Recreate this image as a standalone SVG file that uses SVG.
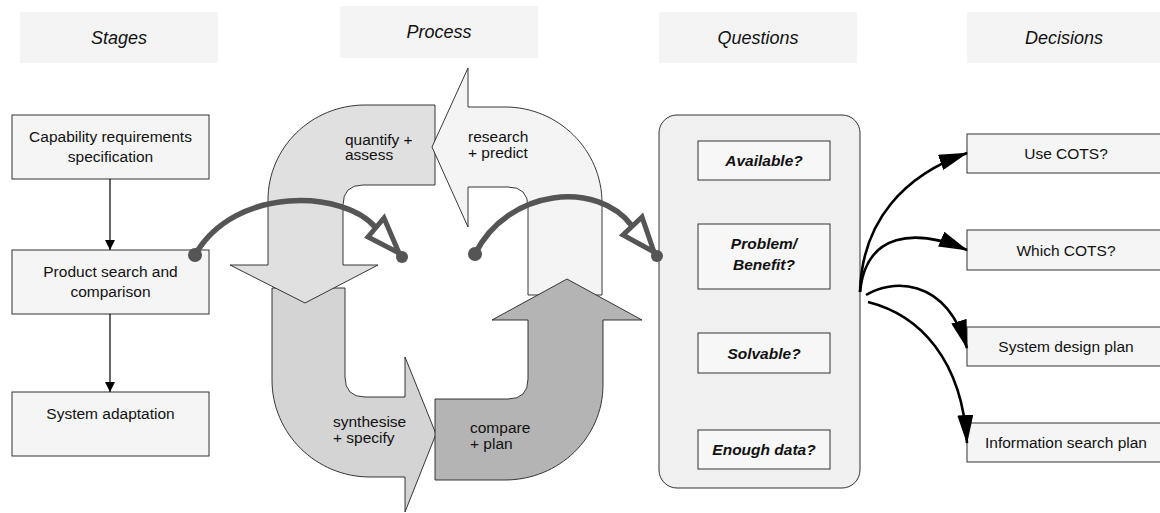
<svg xmlns="http://www.w3.org/2000/svg" width="1160" height="513" viewBox="0 0 1160 513">
  <style>
    text { font-family: "Liberation Sans", Arial, sans-serif; fill: #111; }
    .hdr { font-size: 18px; font-style: italic; text-anchor: middle; }
    .lbl { font-size: 15.5px; }
    .mid { text-anchor: middle; }
    .q { font-size: 15.5px; font-weight: bold; font-style: italic; text-anchor: middle; }
    .hbox { fill: #f4f4f4; stroke: none; }
    .box { fill: #f5f5f5; stroke: #333; stroke-width: 1; }
    .qbox { fill: #f7f7f7; stroke: #333; stroke-width: 1; }
    .blob { stroke: #222; stroke-width: 0.9; stroke-linejoin: miter; }
    .flow { fill: none; stroke: #000; stroke-width: 1.2; }
    .fan { fill: none; stroke: #000; stroke-width: 2.6; }
    .arc { fill: none; stroke: #555; stroke-width: 5.5; }
    .hollow { fill: none; stroke: #555; stroke-width: 5; stroke-linejoin: miter; }
    .dot { fill: #555; }
  </style>
  <defs>
    <marker id="tri" markerUnits="userSpaceOnUse" markerWidth="10" markerHeight="10" refX="10" refY="5" orient="auto">
      <path d="M0,0 L10,5 L0,10 Z" fill="#000"/>
    </marker>
    <marker id="head" markerUnits="userSpaceOnUse" markerWidth="29" markerHeight="16" refX="28" refY="8" orient="auto">
      <path d="M0,0 L29,8 L0,16 Z" fill="#000"/>
    </marker>
  </defs>

  <rect width="1160" height="513" fill="#fff"/>

  <!-- column headers -->
  <g id="hdr-stages"><rect class="hbox" x="20" y="12" width="198" height="51"/><text class="hdr" x="119" y="44">Stages</text></g>
  <g id="hdr-process"><rect class="hbox" x="340" y="6" width="198" height="52"/><text class="hdr" x="439" y="38">Process</text></g>
  <g id="hdr-questions"><rect class="hbox" x="659" y="12" width="198" height="51"/><text class="hdr" x="758" y="44">Questions</text></g>
  <g id="hdr-decisions"><rect class="hbox" x="967" y="12" width="198" height="51"/><text class="hdr" x="1064" y="44">Decisions</text></g>

  <!-- stages -->
  <g id="stage-capability">
    <rect class="box" x="12" y="115" width="197" height="64"/>
    <text class="lbl mid" x="110.5" y="142">Capability requirements</text>
    <text class="lbl mid" x="110.5" y="162">specification</text>
  </g>
  <g id="stage-product">
    <rect class="box" x="12" y="250" width="197" height="64"/>
    <text class="lbl mid" x="110.5" y="277">Product search and</text>
    <text class="lbl mid" x="110.5" y="297">comparison</text>
  </g>
  <g id="stage-adaptation">
    <rect class="box" x="12" y="392" width="197" height="64"/>
    <text class="lbl mid" x="110.5" y="419">System adaptation</text>
  </g>

  <!-- process cycle: four bent arrows -->
  <g id="cycle-synthesise">
    <path class="blob" fill="#d4d4d4" d="M272,288 L345,288 L345,377 Q345,397 365,397 L405,397 L405,357 L436,434 L405,512 L405,477 L370,477 C316,477 272,433.5 272,380 Z"/>
    <text class="lbl" x="333" y="427">synthesise</text>
    <text class="lbl" x="333" y="443">+ specify</text>
  </g>
  <g id="cycle-quantify">
    <path class="blob" fill="#e0e0e0" d="M435,105 L365,105 C311.5,105 268,147.5 268,200 L268,265 L230,265 L305,303 L378,265 L343,265 L343,205 Q343,185 363,185 L435,185 Z"/>
    <text class="lbl" x="345" y="145">quantify +</text>
    <text class="lbl" x="345" y="160">assess</text>
  </g>
  <g id="cycle-research">
    <path class="blob" fill="#f4f4f4" d="M432,147 L468,68 L468,107 L505,107 C558.5,107 602,150 602,203 L602,295 L528,295 L528,207 Q528,187 508,187 L468,187 L468,227 Z"/>
    <text class="lbl" x="468" y="142">research</text>
    <text class="lbl" x="468" y="158">+ predict</text>
  </g>
  <g id="cycle-compare">
    <path class="blob" fill="#b4b4b4" d="M435,399 L508,399 Q528,399 528,379 L528,320 L492,320 L567,279 L642,320 L603,320 L603,385 C603,437.5 559,480 505,480 L435,480 Z"/>
    <text class="lbl" x="470" y="433">compare</text>
    <text class="lbl" x="470" y="449">+ plan</text>
  </g>

  <!-- questions -->
  <g id="questions">
    <rect x="659" y="115" width="201" height="373" rx="18" ry="18" fill="#f0f0f0" stroke="#333" stroke-width="1"/>
  </g>
  <g id="q-available"><rect class="qbox" x="698" y="141" width="132" height="39"/><text class="q" x="764" y="166">Available?</text></g>
  <g id="q-problem"><rect class="qbox" x="698" y="224" width="132" height="65"/><text class="q" x="764" y="249">Problem/</text><text class="q" x="764" y="270">Benefit?</text></g>
  <g id="q-solvable"><rect class="qbox" x="698" y="333" width="132" height="40"/><text class="q" x="764" y="358.5">Solvable?</text></g>
  <g id="q-data"><rect class="qbox" x="698" y="430" width="132" height="39"/><text class="q" x="764" y="455">Enough data?</text></g>

  <!-- decisions -->
  <g id="d-use"><rect class="box" x="967" y="134" width="198" height="39"/><text class="lbl mid" x="1066" y="159">Use COTS?</text></g>
  <g id="d-which"><rect class="box" x="967" y="230" width="198" height="40"/><text class="lbl mid" x="1066" y="255.5">Which COTS?</text></g>
  <g id="d-design"><rect class="box" x="967" y="327" width="198" height="39"/><text class="lbl mid" x="1066" y="352">System design plan</text></g>
  <g id="d-search"><rect class="box" x="967" y="423" width="198" height="39"/><text class="lbl mid" x="1066" y="448">Information search plan</text></g>

  <!-- connectors -->
  <g id="connectors">
    <path class="flow" d="M110,179 L110,250" marker-end="url(#tri)"/>
    <path class="flow" d="M110,314 L110,392" marker-end="url(#tri)"/>

    <path class="arc" d="M195,255 C235,185 345,190 376,228"/>
    <polygon class="hollow" points="384,218 368,237 399,253"/>
    <path class="arc" d="M398,252 L402,257"/>
    <circle class="dot" cx="195" cy="255" r="7"/>
    <circle class="dot" cx="402" cy="257" r="6"/>

    <path class="arc" d="M475,254 C508,188 598,180 632,226"/>
    <polygon class="hollow" points="642,217 623,235 654,252"/>
    <path class="arc" d="M653,251 L657,256"/>
    <circle class="dot" cx="475" cy="254" r="7"/>
    <circle class="dot" cx="657" cy="256" r="6"/>

    <path class="fan" d="M860,292 C862,220 905,175 967,153" marker-end="url(#head)"/>
    <path class="fan" d="M860,292 C866,232 915,228 967,250" marker-end="url(#head)"/>
    <path class="fan" d="M866,295 C890,280 945,275 967,348" marker-end="url(#head)"/>
    <path class="fan" d="M868,302 C920,315 962,360 967,443" marker-end="url(#head)"/>
  </g>
</svg>
